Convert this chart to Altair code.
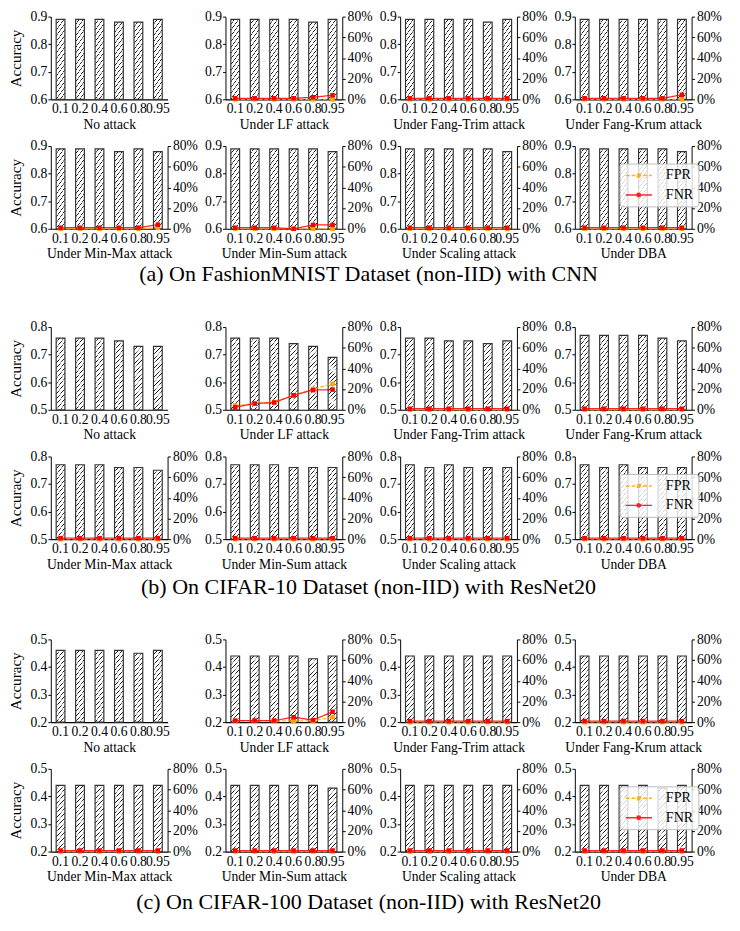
import altair as alt
import pandas as pd

FONT = "Liberation Serif"

ratios = ["0.1", "0.2", "0.4", "0.6", "0.8", "0.95"]
attacks = ["No attack", "Under LF attack", "Under Fang-Trim attack", "Under Fang-Krum attack",
           "Under Min-Max attack", "Under Min-Sum attack", "Under Scaling attack", "Under DBA"]
captions = ["(a) On FashionMNIST Dataset (non-IID) with CNN",
            "(b) On CIFAR-10 Dataset (non-IID) with ResNet20",
            "(c) On CIFAR-100 Dataset (non-IID) with ResNet20"]
acc_domains = [[0.6, 0.9], [0.5, 0.8], [0.2, 0.5]]
acc_ticks = [[0.6, 0.7, 0.8, 0.9], [0.5, 0.6, 0.7, 0.8], [0.2, 0.3, 0.4, 0.5]]
rate_ticks = [0, 0.2, 0.4, 0.6, 0.8]

# accuracy per attack (rows follow `attacks`)
acc_a = [[0.89, 0.89, 0.89, 0.88, 0.88, 0.89],
         [0.89, 0.89, 0.89, 0.89, 0.88, 0.89],
         [0.89, 0.89, 0.89, 0.89, 0.88, 0.89],
         [0.89, 0.89, 0.89, 0.89, 0.89, 0.89],
         [0.89, 0.89, 0.89, 0.88, 0.89, 0.88],
         [0.89, 0.89, 0.89, 0.89, 0.89, 0.88],
         [0.89, 0.89, 0.89, 0.89, 0.89, 0.88],
         [0.89, 0.89, 0.89, 0.89, 0.89, 0.88]]
acc_b = [[0.76, 0.76, 0.76, 0.75, 0.73, 0.73],
         [0.76, 0.76, 0.76, 0.74, 0.73, 0.69],
         [0.76, 0.76, 0.75, 0.75, 0.74, 0.75],
         [0.77, 0.77, 0.77, 0.77, 0.76, 0.75],
         [0.77, 0.77, 0.77, 0.76, 0.76, 0.75],
         [0.77, 0.77, 0.77, 0.76, 0.76, 0.76],
         [0.77, 0.76, 0.77, 0.76, 0.76, 0.76],
         [0.77, 0.76, 0.77, 0.76, 0.76, 0.76]]
acc_c = [[0.46, 0.46, 0.46, 0.46, 0.45, 0.46],
         [0.44, 0.44, 0.44, 0.44, 0.43, 0.44],
         [0.44, 0.44, 0.44, 0.44, 0.44, 0.44],
         [0.44, 0.44, 0.44, 0.44, 0.44, 0.44],
         [0.44, 0.44, 0.44, 0.44, 0.44, 0.44],
         [0.44, 0.44, 0.44, 0.44, 0.44, 0.43],
         [0.44, 0.44, 0.44, 0.44, 0.44, 0.44],
         [0.44, 0.44, 0.44, 0.44, 0.43, 0.44]]

# FPR / FNR per attack (rows follow attacks[1:])
fpr_a = [[0, 0, 0, 0, 0, 0],
         [0, 0, 0, 0, 0, 0],
         [0, 0, 0, 0, 0, 0],
         [0, 0, 0, 0, 0, 0.01],
         [0, 0, 0, 0, 0, 0],
         [0, 0, 0, 0, 0, 0],
         [0, 0, 0, 0, 0, 0]]
fnr_a = [[0.01, 0.01, 0.01, 0.01, 0.02, 0.04],
         [0.01, 0.01, 0.01, 0.01, 0.01, 0.01],
         [0.01, 0.01, 0.01, 0.01, 0.01, 0.044],
         [0.01, 0.01, 0.01, 0.01, 0.01, 0.04],
         [0.01, 0.01, 0.01, 0.0, 0.037, 0.037],
         [0.01, 0.01, 0.01, 0.01, 0.01, 0.01],
         [0.01, 0.01, 0.01, 0.01, 0.01, 0.01]]
fpr_b = [[0.04, 0.06, 0.075, 0.14, 0.20, 0.25],
         [0, 0, 0, 0, 0, 0],
         [0, 0, 0, 0, 0, 0],
         [0, 0, 0, 0, 0, 0],
         [0, 0, 0, 0, 0, 0],
         [0, 0, 0, 0, 0, 0],
         [0, 0, 0, 0, 0, 0]]
fnr_b = [[0.025, 0.06, 0.07, 0.14, 0.19, 0.195],
         [0.01, 0.01, 0.01, 0.01, 0.01, 0.01],
         [0.01, 0.01, 0.01, 0.01, 0.01, 0.01],
         [0.01, 0.01, 0.01, 0.01, 0.01, 0.01],
         [0.01, 0.01, 0.01, 0.01, 0.01, 0.01],
         [0.01, 0.01, 0.01, 0.01, 0.01, 0.01],
         [0.01, 0.01, 0.01, 0.01, 0.01, 0.01]]
fpr_c = [[0.012, 0.012, 0.012, 0.012, 0.012, 0.048],
         [0, 0, 0, 0, 0, 0],
         [0, 0, 0, 0, 0, 0],
         [0, 0, 0, 0, 0, 0],
         [0, 0, 0, 0, 0, 0],
         [0, 0, 0, 0, 0, 0],
         [0, 0, 0, 0, 0, 0]]
fnr_c = [[0.015, 0.015, 0.015, 0.048, 0.02, 0.10],
         [0.01, 0.01, 0.01, 0.01, 0.01, 0.01],
         [0.01, 0.01, 0.01, 0.01, 0.01, 0.01],
         [0.01, 0.01, 0.01, 0.01, 0.01, 0.01],
         [0.01, 0.01, 0.01, 0.01, 0.01, 0.01],
         [0.01, 0.01, 0.01, 0.01, 0.01, 0.01],
         [0.01, 0.01, 0.01, 0.01, 0.01, 0.01]]

accs = [acc_a, acc_b, acc_c]
fprs = [fpr_a, fpr_b, fpr_c]
fnrs = [fnr_a, fnr_b, fnr_c]

series = ["FPR", "FNR"]
series_colors = ["#FFA500", "#FF0000"]
series_dash = [[4, 2], [1, 0]]

PW, PH = 120, 85


def hatch_fill():
    n = 16
    P = 1.0 / n
    stops = []
    for i in range(n):
        s = i * P
        stops += [
            {"offset": round(s, 5), "color": "#ffffff"},
            {"offset": round(s + P - 0.016, 5), "color": "#ffffff"},
            {"offset": round(s + P - 0.011, 5), "color": "#1a1a1a"},
            {"offset": round(s + P - 0.005, 5), "color": "#1a1a1a"},
            {"offset": round(min(s + P, 1.0), 5), "color": "#ffffff"},
        ]
    return {"gradient": "linear", "x1": 0, "y1": 0, "x2": 0.169, "y2": 1.125, "stops": stops}


HATCH = hatch_fill()


def x_enc(title):
    return alt.X("ratio:N", sort=ratios,
                 scale=alt.Scale(paddingInner=0.55, paddingOuter=0.275),
                 axis=alt.Axis(title=title, labelAngle=0, ticks=False, labelPadding=3,
                               titlePadding=2, domainColor="black", domainWidth=1.2))


def panel(sec, k):
    lo, hi = acc_domains[sec]
    first_col = k in (0, 4)
    bar_df = pd.DataFrame({"ratio": ratios, "acc": accs[sec][k]})
    bars = alt.Chart(bar_df).mark_bar(fill=HATCH, stroke="#333333", strokeWidth=1.2).encode(
        x=x_enc(attacks[k]),
        y=alt.Y("acc:Q", scale=alt.Scale(domain=[lo, hi], zero=False, nice=False),
                axis=alt.Axis(values=acc_ticks[sec], format=".1f",
                              title="Accuracy" if first_col else None, titleFontSize=15.5,
                              tickSize=3, labelPadding=1, titlePadding=7)),
        y2=alt.datum(lo),
    )
    if k == 0:
        return bars.properties(width=PW, height=PH)
    rows = []
    for si, sname in enumerate(series):
        vals = (fprs if si == 0 else fnrs)[sec][k - 1]
        for r, v in zip(ratios, vals):
            rows.append({"ratio": r, "rate": v, "series": sname})
    line_df = pd.DataFrame(rows)
    if k == 7:
        leg = alt.Legend(title=None, orient="none", legendX=46, legendY=18,
                         symbolType="M-1,0H3.5M1,-0.25H1.5V0.25H1Z", symbolSize=144,
                         symbolStrokeWidth=1.5, labelFont=FONT, labelFontSize=14.5,
                         labelOffset=28, rowPadding=5, padding=5,
                         fillColor="rgba(255,255,255,0.8)", strokeColor="#bbbbbb",
                         cornerRadius=3, labelColor="black")
    else:
        leg = None
    lines = alt.Chart(line_df).mark_line(
        strokeWidth=1.3, opacity=0.85,
        point=alt.OverlayMarkDef(shape="square", size=22, filled=True, opacity=1)
    ).encode(
        x=x_enc(attacks[k]),
        y=alt.Y("rate:Q", scale=alt.Scale(domain=[0, 0.8], nice=False),
                axis=alt.Axis(orient="right", values=rate_ticks, format=".0%", title=None,
                              tickSize=3, labelPadding=2)),
        color=alt.Color("series:N", scale=alt.Scale(domain=series, range=series_colors),
                        legend=leg),
        strokeDash=alt.StrokeDash("series:N", scale=alt.Scale(domain=series, range=series_dash),
                                  legend=leg),
        order=alt.Order("series:N", sort="descending"),
    )
    return alt.layer(bars, lines).resolve_scale(y="independent").properties(width=PW, height=PH)


def indep(c):
    return c.resolve_scale(color="independent", strokeDash="independent").resolve_legend(
        color="independent", strokeDash="independent")


def row(sec, ks):
    return indep(alt.hconcat(*[panel(sec, k) for k in ks], spacing=59.5, bounds="flush"))


def caption(sec, h, ty):
    df = pd.DataFrame({"t": [captions[sec]]})
    return alt.Chart(df).mark_text(font=FONT, fontSize=22.6, align="center", baseline="middle",
                                   color="black").encode(
        x=alt.value(326.5), y=alt.value(ty), text="t:N").properties(width=700, height=h)


def section(sec):
    return indep(alt.vconcat(row(sec, [0, 1, 2, 3]), row(sec, [4, 5, 6, 7]), spacing=8))


chart = indep(alt.vconcat(
    section(0), caption(0, 61, 14),
    section(1), caption(1, 63, 16),
    section(2), caption(2, 45, 19),
    spacing=0,
)).properties(padding={"left": 0, "top": -11, "right": 0, "bottom": 0}).configure_view(
    stroke=None).configure_axis(
    labelFont=FONT, titleFont=FONT, labelFontSize=14, titleFontSize=14,
    labelColor="black", titleColor="black", domainColor="black", tickColor="black",
    titleFontWeight="normal", grid=False
)

chart.save("out.html", embed_options={"renderer": "svg", "actions": False})
